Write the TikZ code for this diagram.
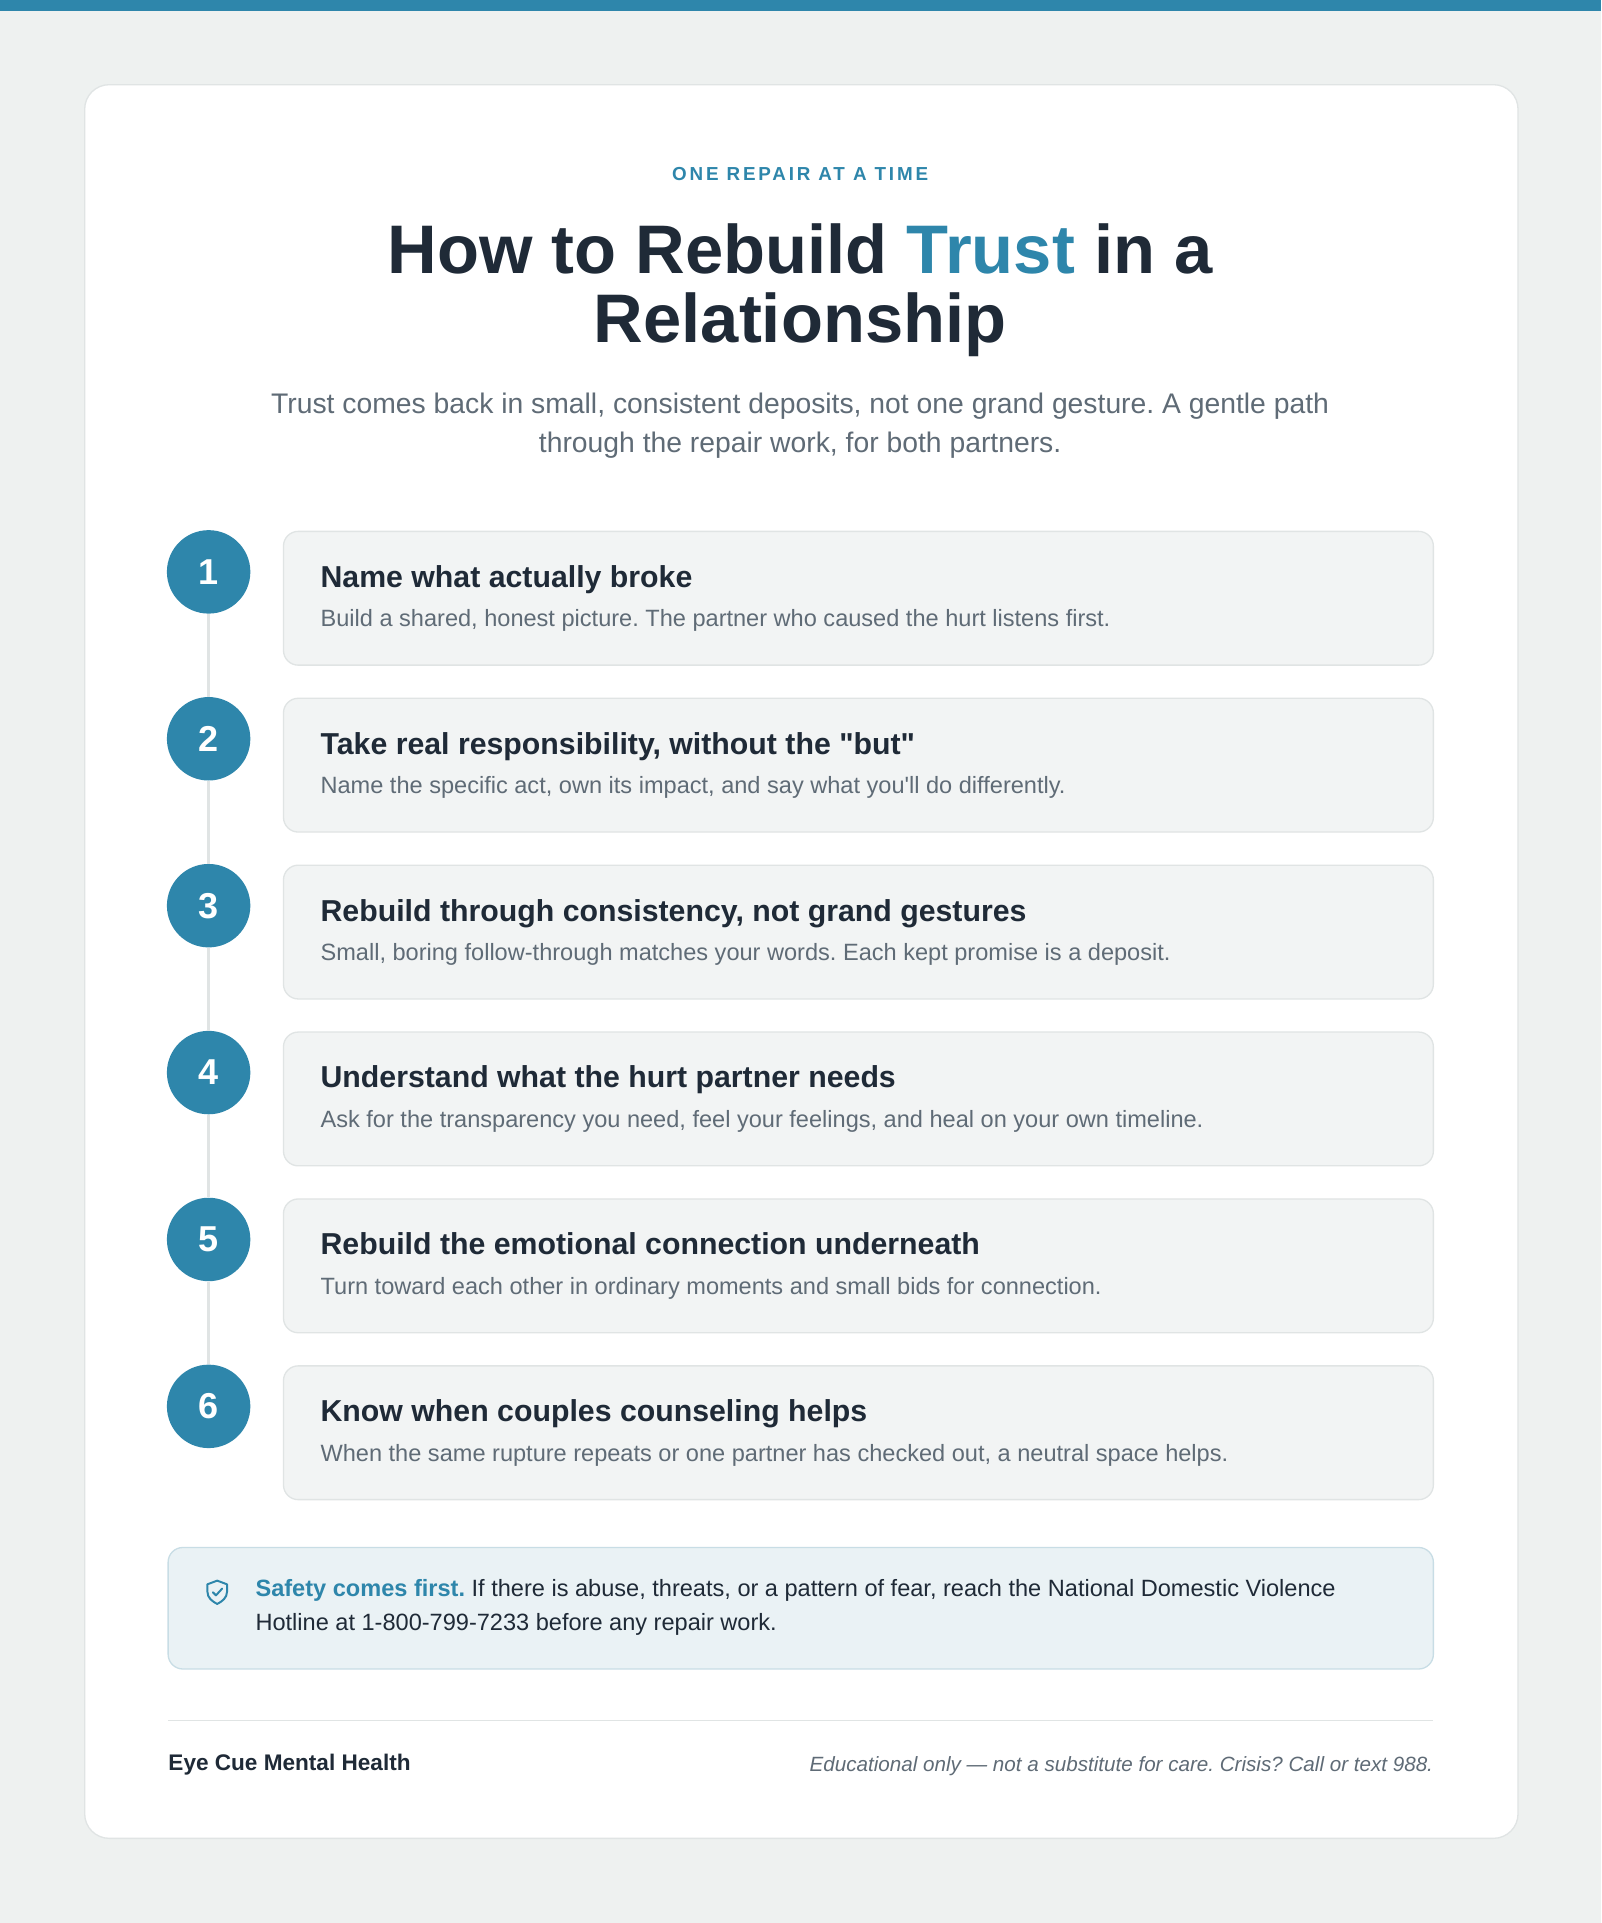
\documentclass[tikz,border=0pt]{standalone}
\usepackage{fontspec}
\setmainfont{Liberation Sans}
\frenchspacing
\definecolor{teal}{HTML}{2E86AB}
\definecolor{bg}{HTML}{EEF1F0}
\definecolor{ink}{HTML}{1F2A37}
\definecolor{mut}{HTML}{5F6B76}
\definecolor{cardf}{HTML}{F2F4F4}
\definecolor{cardb}{HTML}{E0E4E4}
\definecolor{safef}{HTML}{EAF2F5}
\definecolor{safeb}{HTML}{C8DDE5}
\begin{document}
\begin{tikzpicture}[x=0.75pt,y=-0.75pt,
 stepc/.style={circle,fill=teal,minimum size=51pt,inner sep=0pt,text=white,font=\fontsize{22}{24}\selectfont\bfseries},
 card/.style={draw=cardb,fill=cardf,rounded corners=9pt,line width=0.8pt},
 ctitle/.style={anchor=mid west,inner sep=0pt,text=ink,font=\fontsize{18.5}{20}\selectfont\bfseries},
 cdesc/.style={anchor=mid west,inner sep=0pt,text=mut,font=\fontsize{14.4}{15}\selectfont},
 link/.style={draw=cardb,line width=1.5pt}]
\useasboundingbox (0,0) rectangle (1305,1567);
\fill[bg] (0,0) rectangle (1305,1567);
\fill[teal] (0,0) rectangle (1305,9);
\draw[fill=white,draw=cardb,rounded corners=15pt,line width=0.8pt] (69,69) rectangle (1237,1498);
\node[text=teal,font=\fontsize{11.5}{13}\selectfont\bfseries\addfontfeature{LetterSpace=15}] (kick) at (652,142) {ONE REPAIR AT A TIME};
\node[text=ink,font=\fontsize{42}{46}\selectfont\bfseries] (t1) at (652,203) {How to Rebuild \textcolor{teal}{Trust} in a};
\node[text=ink,font=\fontsize{42}{46}\selectfont\bfseries] (t2) at (652,265) {Relationship};
\node[text=mut,font=\fontsize{17.3}{18}\selectfont] (s1) at (652,331) {Trust comes back in small, consistent deposits, not one grand gesture. A gentle path};
\node[text=mut,font=\fontsize{17.3}{18}\selectfont] (s2) at (652,363) {through the repair work, for both partners.};
\foreach \i/\t/\d in {
1/Name what actually broke/{Build a shared, honest picture. The partner who caused the hurt listens first.},
2/{Take real responsibility, without the \textquotedbl but\textquotedbl}/{Name the specific act, own its impact, and say what you\textquotesingle ll do differently.},
3/{Rebuild through consistency, not grand gestures}/{Small, boring follow-through matches your words. Each kept promise is a deposit.},
4/Understand what the hurt partner needs/{Ask for the transparency you need, feel your feelings, and heal on your own timeline.},
5/Rebuild the emotional connection underneath/{Turn toward each other in ordinary moments and small bids for connection.},
6/Know when couples counseling helps/{When the same rupture repeats or one partner has checked out, a neutral space helps.}}{
 \pgfmathsetmacro{\y}{433+136*(\i-1)}
 \draw[card] (231,\y) rectangle (1168,\y+109);
 \node[stepc] (c\i) at (170,\y+33) {\i};
 \node[ctitle] (ct\i) at (261,\y+42) {\t};
 \node[cdesc] (cd\i) at (261,\y+74) {\d};
}
\foreach \a/\b in {1/2,2/3,3/4,4/5,5/6}{\draw[link] (c\a) -- (c\b);}
\draw[fill=safef,draw=safeb,rounded corners=9pt,line width=0.8pt] (137,1261) rectangle (1168,1360);
\begin{scope}[shift={(177,1297)},teal,line width=1.2pt,line join=round,line cap=round]
 \draw (0,-9) -- (8,-6) -- (8,0) .. controls (8,5) and (4,8) .. (0,10) .. controls (-4,8) and (-8,5) .. (-8,0) -- (-8,-6) -- cycle;
 \draw (-3.5,0.5) -- (-1,3) -- (4,-2.5);
\end{scope}
\node[anchor=mid west,inner sep=0pt,text=ink,font=\fontsize{14.4}{16}\selectfont] (sa1) at (208,1297) {\textcolor{teal}{\bfseries Safety comes first.} If there is abuse, threats, or a pattern of fear, reach the National Domestic Violence};
\node[anchor=mid west,inner sep=0pt,text=ink,font=\fontsize{14.4}{16}\selectfont] (sa2) at (208,1325) {Hotline at 1-800-799-7233 before any repair work.};
\draw[cardb,line width=0.8pt] (137,1402) -- (1168,1402);
\node[anchor=mid west,inner sep=0pt,text=ink,font=\fontsize{13.8}{15}\selectfont\bfseries] (ft) at (137,1439) {Eye Cue Mental Health};
\node[anchor=mid east,inner sep=0pt,text=mut,font=\fontsize{12.6}{14}\selectfont\itshape] (fr) at (1168,1440) {Educational only — not a substitute for care. Crisis? Call or text 988.};
\end{tikzpicture}
\end{document}
